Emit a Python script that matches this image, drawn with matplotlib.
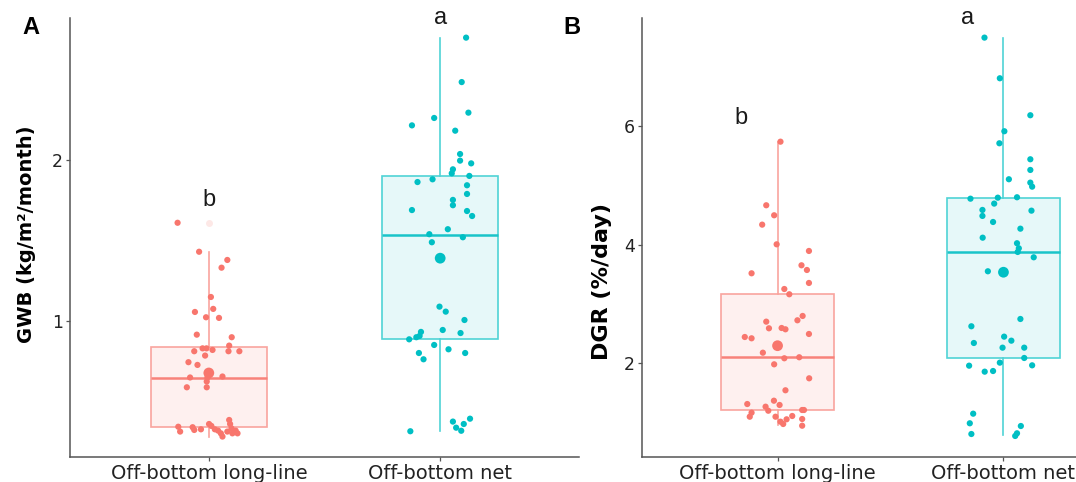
import matplotlib
matplotlib.use("Agg")
import matplotlib.pyplot as plt

plt.rcParams['font.family'] = ['DejaVu Sans']

groups = ["Off-bottom long-line", "Off-bottom net"]

# ---- panel A: GWB (kg/m2/month), jittered points (value, horizontal jitter) ----
gwb_longline = [1.61, 1.43, 1.379, 1.331, 1.149, 1.075, 1.056, 1.023, 1.019,
                0.915, 0.899, 0.830, 0.830, 0.820, 0.847, 0.812, 0.812, 0.812, 0.785,
                0.744, 0.727, 0.68, 0.649, 0.649, 0.624, 0.655, 0.588, 0.588,
                0.343, 0.313, 0.340, 0.323, 0.327, 0.360, 0.348, 0.327, 0.302,
                0.282, 0.319, 0.385, 0.360, 0.313, 0.302, 0.319, 0.302, 0.333]
gwb_longline_jit = [-0.135, -0.042, 0.080, 0.055, 0.009, 0.019, -0.060, -0.012, 0.044,
                    -0.052, 0.099, -0.027, -0.010, 0.016, 0.088, 0.085, 0.132, -0.063, -0.016,
                    -0.088, -0.049, 0.0, -0.081, -0.006, -0.009, 0.059, -0.095, -0.009,
                    -0.132, -0.124, -0.070, -0.063, -0.034, 0.001, 0.011, 0.026, 0.052,
                    0.059, 0.040, 0.088, 0.092, 0.080, 0.102, 0.116, 0.124, 0.098]
gwb_net = [2.760, 2.484, 2.294, 2.261, 2.215, 2.182, 2.037, 1.996, 1.979, 1.942,
           1.917, 1.901, 1.880, 1.863, 1.843, 1.789, 1.752, 1.719, 1.689, 1.683,
           1.652, 1.570, 1.539, 1.520, 1.489, 1.089, 1.058, 1.006, 0.944, 0.925,
           0.932, 0.907, 0.899, 0.886, 0.851, 0.824, 0.801, 0.801, 0.762,
           0.375, 0.393, 0.360, 0.337, 0.318, 0.315]
gwb_net_jit = [0.112, 0.093, 0.122, -0.026, -0.122, 0.065, 0.086, 0.086, 0.134, 0.055,
               0.050, 0.126, -0.033, -0.098, 0.116, 0.116, 0.055, 0.055, -0.122, 0.116,
               0.138, 0.033, -0.047, 0.098, -0.036, -0.003, 0.024, 0.105, 0.011, 0.088,
               -0.083, -0.089, -0.103, -0.134, -0.026, 0.036, -0.092, 0.108, -0.072,
               0.055, 0.129, 0.102, 0.069, 0.091, -0.129]

# box summaries: q1, median, q3, whisker low, whisker high, mean
gwb_q1 = [0.342, 0.888]
gwb_med = [0.646, 1.534]
gwb_q3 = [0.839, 1.900]
gwb_wlo = [0.280, 0.317]
gwb_whi = [1.428, 2.758]
gwb_mean = [0.677, 1.390]
gwb_out = [[1.61], []]
gwb_letters = ["b", "a"]
gwb_letter_y = [1.75, 2.88]

# ---- panel B: DGR (%/day) ----
dgr_longline = [5.743, 4.670, 4.501, 4.343, 4.011, 3.899, 3.657, 3.578, 3.522, 3.359,
                3.257, 3.168, 2.802, 2.729, 2.706, 2.594, 2.599, 2.577, 2.447, 2.425,
                2.498, 2.32, 2.182, 2.088, 2.105, 1.986, 1.750, 1.548,
                1.316, 1.271, 1.203, 1.372, 1.300, 1.170, 1.102, 1.102, 1.018, 0.979,
                1.058, 1.114, 1.215, 1.215, 1.063, 0.950]
dgr_longline_jit = [0.013, -0.050, -0.015, -0.068, -0.004, 0.139, 0.106, 0.130, -0.115, 0.139,
                    0.030, 0.052, 0.111, 0.088, -0.050, -0.038, 0.018, 0.035, -0.145, -0.115,
                    0.139, 0.0, -0.065, 0.030, 0.096, -0.015, 0.140, 0.035,
                    -0.134, -0.053, -0.041, -0.016, 0.009, -0.115, -0.123, -0.009, 0.013, 0.025,
                    0.040, 0.065, 0.109, 0.117, 0.109, 0.109]
dgr_net = [7.499, 6.813, 6.189, 5.919, 5.716, 5.446, 5.266, 5.109, 5.052, 4.984,
           4.781, 4.798, 4.805, 4.698, 4.591, 4.490, 4.579, 4.388, 4.275, 4.123,
           4.029, 3.944, 3.882, 3.792, 3.556, 2.751, 2.628, 2.346, 2.453, 2.385,
           2.267, 2.267, 2.093, 2.014, 1.963, 1.969, 1.862, 1.873,
           1.153, 0.991, 0.810, 0.945, 0.822, 0.777]
dgr_net_jit = [-0.084, -0.016, 0.119, 0.004, -0.018, 0.119, 0.119, 0.024, 0.119, 0.127,
               -0.146, -0.025, 0.060, -0.041, -0.093, -0.093, 0.124, -0.046, 0.075, -0.092,
               0.060, 0.068, 0.063, 0.134, -0.069, 0.075, -0.142, -0.131, 0.003, 0.035,
               -0.004, 0.092, 0.092, -0.016, -0.152, 0.127, -0.083, -0.046,
               -0.134, -0.149, -0.142, 0.077, 0.060, 0.052]

dgr_q1 = [1.215, 2.09]
dgr_med = [2.11, 3.88]
dgr_q3 = [3.17, 4.79]
dgr_wlo = [0.97, 0.79]
dgr_whi = [5.74, 7.49]
dgr_mean = [2.30, 3.54]
dgr_out = [[], []]
dgr_letters = ["b", "a"]
dgr_letter_y = [6.14, 7.83]

point_col = ["#F8766D", "#00BFC4"]
edge_col = ["#F9A49E", "#4FD3D6"]
fill_col = ["#FEF0EF", "#E6F8F9"]
med_col = ["#F8827A", "#19C4C9"]


def draw_panel(ax, pts, jits, q1, med, q3, wlo, whi, means, outs, letters, letter_y,
               letter_dx, ylim, yticks, ylabel, ylabel_size):
    for i in range(2):
        stats = [dict(q1=q1[i], med=med[i], q3=q3[i], whislo=wlo[i], whishi=whi[i],
                      fliers=outs[i])]
        ax.bxp(stats, positions=[i], widths=0.5, patch_artist=True, showcaps=False,
               boxprops=dict(facecolor=fill_col[i], edgecolor=edge_col[i], linewidth=1.2),
               whiskerprops=dict(color=edge_col[i], linewidth=1.2),
               medianprops=dict(color=med_col[i], linewidth=1.8),
               flierprops=dict(marker='o', markersize=5, markerfacecolor="#FDE8E6",
                               markeredgecolor='none'),
               zorder=1)
        xs = [i + d for d in jits[i]]
        ax.scatter(xs, pts[i], s=20, color=point_col[i], edgecolors='none', zorder=3)
        ax.scatter([i], [means[i]], s=60, color=point_col[i], edgecolors='none', zorder=4)
        ax.text(i + letter_dx, letter_y[i], letters[i], ha='center', va='center',
                fontsize=17, color='#1a1a1a', family='Liberation Sans')
    ax.set_xlim(-0.6, 1.6)
    ax.set_ylim(*ylim)
    ax.set_xticks([0, 1])
    ax.set_xticklabels(groups, fontsize=14)
    ax.set_yticks(yticks)
    ax.set_yticklabels([str(t) for t in yticks], fontsize=12.5)
    for s in ['top', 'right']:
        ax.spines[s].set_visible(False)
    for s in ['left', 'bottom']:
        ax.spines[s].set_color('#555555')
        ax.spines[s].set_linewidth(1.1)
    ax.tick_params(length=3, width=0.9, color='#555555', labelcolor='#222222', pad=2)
    ax.set_ylabel(ylabel, fontsize=ylabel_size, fontweight='bold', va='center')


fig = plt.figure(figsize=(10.76, 4.82), dpi=100)

axA = fig.add_axes([70 / 1076, 25 / 482, 509 / 1076, 439 / 482])
draw_panel(axA, [gwb_longline, gwb_net], [gwb_longline_jit, gwb_net_jit],
           gwb_q1, gwb_med, gwb_q3, gwb_wlo, gwb_whi, gwb_mean, gwb_out,
           gwb_letters, gwb_letter_y, 0.0, (0.155, 2.882), [1, 2],
           "GWB (kg/m²/month)", 14)
axA.yaxis.set_label_coords(-0.0845, 0.507)

axB = fig.add_axes([642 / 1076, 25 / 482, 497 / 1076, 439 / 482])
draw_panel(axB, [dgr_longline, dgr_net], [dgr_longline_jit, dgr_net_jit],
           dgr_q1, dgr_med, dgr_q3, dgr_wlo, dgr_whi, dgr_mean, dgr_out,
           dgr_letters, dgr_letter_y, -0.16, (0.422, 7.83), [2, 4, 6],
           "DGR (%/day)", 16)
axB.yaxis.set_label_coords(-0.0805, 0.40)

fig.text(31 / 1076, 1 - 28 / 482, "A", fontsize=17, fontweight='bold', ha='center',
         va='center', family='Liberation Sans')
fig.text(572 / 1076, 1 - 28 / 482, "B", fontsize=17, fontweight='bold', ha='center',
         va='center', family='Liberation Sans')

fig.savefig("out.png", dpi=100)
